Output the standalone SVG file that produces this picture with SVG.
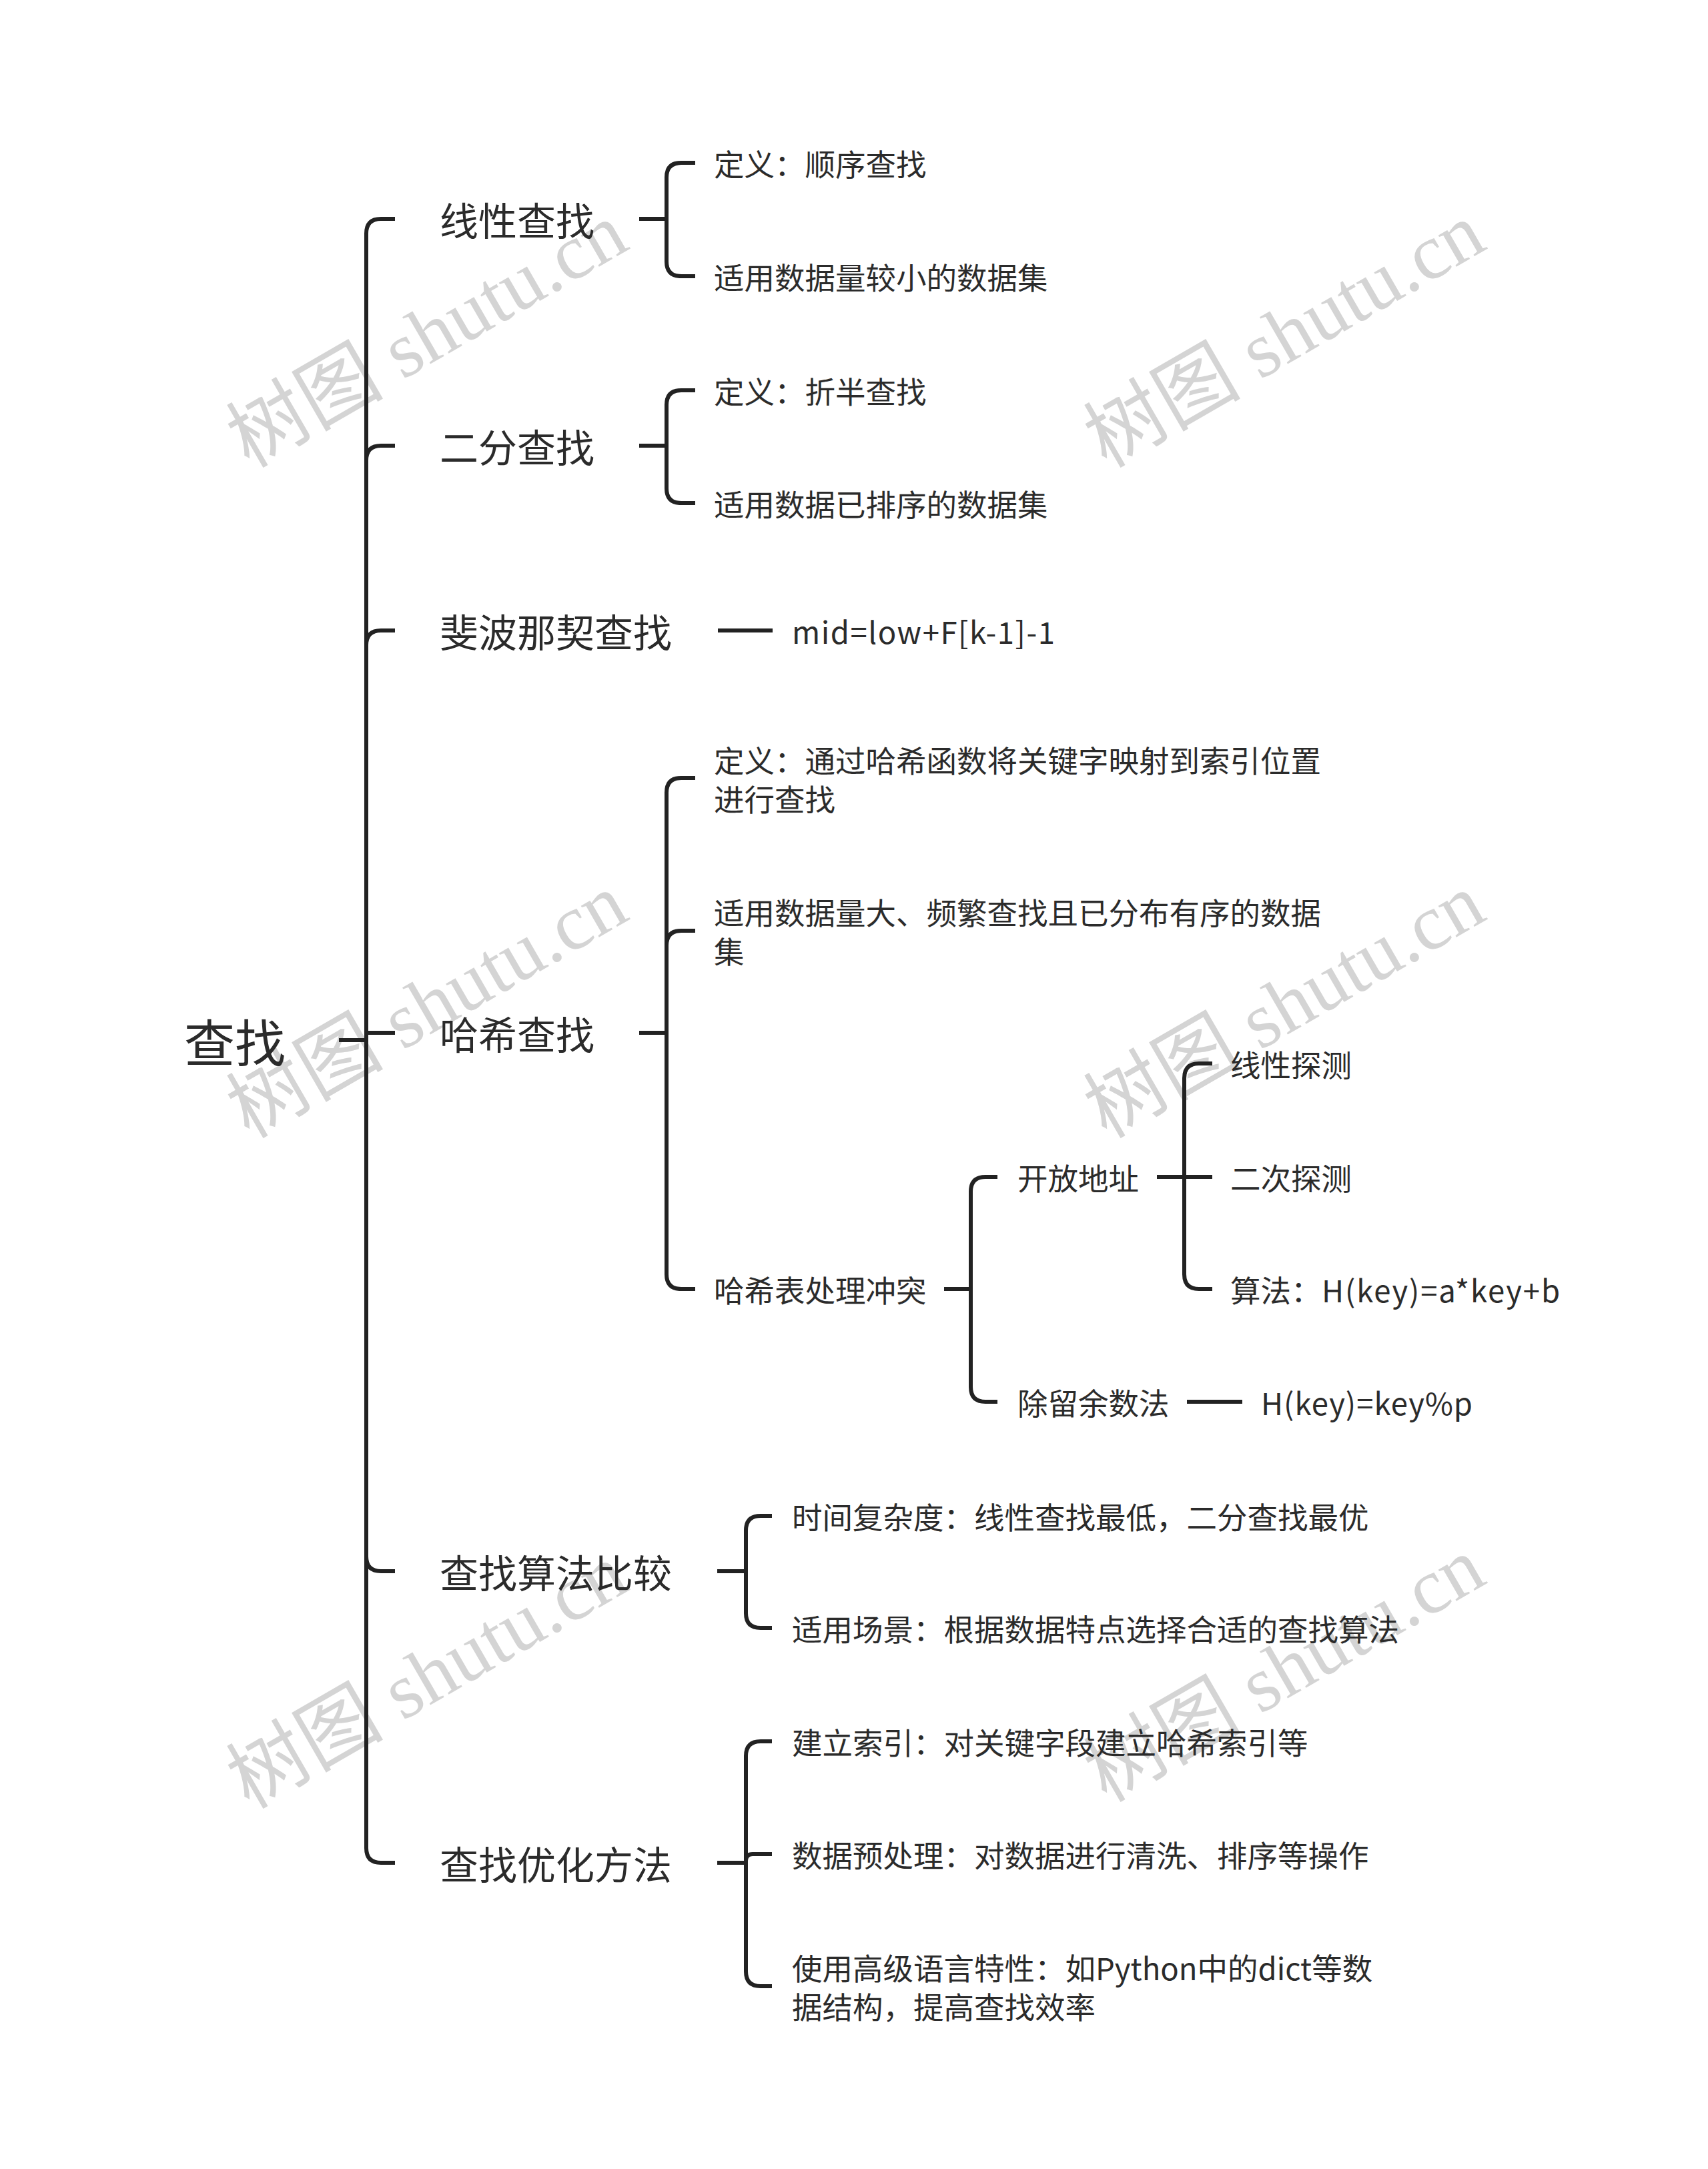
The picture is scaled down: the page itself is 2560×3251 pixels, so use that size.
<svg xmlns="http://www.w3.org/2000/svg" width="2560" height="3251" viewBox="0 0 2560 3251">
<style>
  .c { fill: none; stroke: #222222; stroke-width: 6; stroke-linecap: butt; stroke-linejoin: round; }
  .t { font-family: "Noto Sans CJK SC", "Noto Sans", sans-serif; fill: #2b2b2b; dominant-baseline: central; }
  .root { font-size: 76px; }
  .l1 { font-size: 58px; }
  .l2 { font-size: 45.5px; }
  .wm { font-family: "Liberation Serif", "Noto Sans CJK SC", serif; font-size: 118px; fill: #d4d4d4; text-anchor: middle; }
</style>
<rect width="2560" height="3251" fill="#ffffff"/>
<g id="watermarks">
  <text class="wm" transform="translate(660,537) rotate(-30)">树图 shutu.cn</text>
  <text class="wm" transform="translate(1945,537) rotate(-30)">树图 shutu.cn</text>
  <text class="wm" transform="translate(660,1542) rotate(-30)">树图 shutu.cn</text>
  <text class="wm" transform="translate(1945,1542) rotate(-30)">树图 shutu.cn</text>
  <text class="wm" transform="translate(660,2547) rotate(-30)">树图 shutu.cn</text>
  <text class="wm" transform="translate(1945,2537) rotate(-30)">树图 shutu.cn</text>
</g>
<g id="connectors">
  <!-- root to level 1 -->
  <path class="c" d="M508,1559 H549"/>
  <path class="c" d="M549,1559 V350 Q549,328 571,328 H592"/>
  <path class="c" d="M549,1559 V690 Q549,668 571,668 H592"/>
  <path class="c" d="M549,1559 V967 Q549,945 571,945 H592"/>
  <path class="c" d="M549,1559 V1548 H592"/>
  <path class="c" d="M549,1559 V2333 Q549,2355 571,2355 H592"/>
  <path class="c" d="M549,1559 V2770 Q549,2792 571,2792 H592"/>
  <!-- 线性查找 -->
  <path class="c" d="M958,328 H999"/>
  <path class="c" d="M999,328 V266 Q999,244 1021,244 H1042"/>
  <path class="c" d="M999,328 V392 Q999,414 1021,414 H1042"/>
  <!-- 二分查找 -->
  <path class="c" d="M958,668 H999"/>
  <path class="c" d="M999,668 V607 Q999,585 1021,585 H1042"/>
  <path class="c" d="M999,668 V732 Q999,754 1021,754 H1042"/>
  <!-- 斐波那契查找 -->
  <path class="c" d="M1076,945 H1158"/>
  <!-- 哈希查找 -->
  <path class="c" d="M958,1548 H999"/>
  <path class="c" d="M999,1548 V1188 Q999,1166 1021,1166 H1042"/>
  <path class="c" d="M999,1548 V1417 Q999,1395 1021,1395 H1042"/>
  <path class="c" d="M999,1548 V1910 Q999,1932 1021,1932 H1042"/>
  <!-- 哈希表处理冲突 -->
  <path class="c" d="M1415,1932 H1455"/>
  <path class="c" d="M1455,1932 V1786 Q1455,1764 1477,1764 H1495"/>
  <path class="c" d="M1455,1932 V2079 Q1455,2101 1477,2101 H1495"/>
  <!-- 开放地址 -->
  <path class="c" d="M1734,1764 H1775"/>
  <path class="c" d="M1775,1764 V1616 Q1775,1594 1797,1594 H1817"/>
  <path class="c" d="M1775,1764 H1817"/>
  <path class="c" d="M1775,1764 V1910 Q1775,1932 1797,1932 H1817"/>
  <!-- 除留余数法 -->
  <path class="c" d="M1779,2101 H1862"/>
  <!-- 查找算法比较 -->
  <path class="c" d="M1075,2355 H1118"/>
  <path class="c" d="M1118,2355 V2294 Q1118,2272 1140,2272 H1157"/>
  <path class="c" d="M1118,2355 V2418 Q1118,2440 1140,2440 H1157"/>
  <!-- 查找优化方法 -->
  <path class="c" d="M1075,2792 H1118"/>
  <path class="c" d="M1118,2792 V2632 Q1118,2610 1140,2610 H1157"/>
  <path class="c" d="M1118,2792 V2789 Q1118,2779 1128,2779 H1157"/>
  <path class="c" d="M1118,2792 V2955 Q1118,2977 1140,2977 H1157"/>
</g>
<g id="n-root"><text class="t root" x="276" y="1559">查找</text></g>
<g id="n-linear"><text class="t l1" x="659" y="328">线性查找</text></g>
<g id="n-linear-def"><text class="t l2" x="1070" y="244">定义：顺序查找</text></g>
<g id="n-linear-use"><text class="t l2" x="1070" y="414">适用数据量较小的数据集</text></g>
<g id="n-binary"><text class="t l1" x="659" y="668">二分查找</text></g>
<g id="n-binary-def"><text class="t l2" x="1070" y="585">定义：折半查找</text></g>
<g id="n-binary-use"><text class="t l2" x="1070" y="754">适用数据已排序的数据集</text></g>
<g id="n-fib"><text class="t l1" x="659" y="945">斐波那契查找</text></g>
<g id="n-fib-mid"><text class="t l2" x="1187" y="945" textLength="394" lengthAdjust="spacing">mid=low+F[k-1]-1</text></g>
<g id="n-hash"><text class="t l1" x="659" y="1548">哈希查找</text></g>
<g id="n-hash-def"><text class="t l2" x="1070" y="1138">定义：通过哈希函数将关键字映射到索引位置<tspan x="1070" y="1196">进行查找</tspan></text></g>
<g id="n-hash-use"><text class="t l2" x="1070" y="1366">适用数据量大、频繁查找且已分布有序的数据<tspan x="1070" y="1424">集</tspan></text></g>
<g id="n-hash-conflict"><text class="t l2" x="1070" y="1932">哈希表处理冲突</text></g>
<g id="n-open"><text class="t l2" x="1525" y="1764">开放地址</text></g>
<g id="n-open-linear"><text class="t l2" x="1844" y="1594">线性探测</text></g>
<g id="n-open-quad"><text class="t l2" x="1844" y="1764">二次探测</text></g>
<g id="n-open-algo"><text class="t l2" x="1844" y="1932">算法：<tspan x="1981" textLength="357" lengthAdjust="spacing">H(key)=a*key+b</tspan></text></g>
<g id="n-mod"><text class="t l2" x="1525" y="2101">除留余数法</text></g>
<g id="n-mod-formula"><text class="t l2" x="1890" y="2101" textLength="317" lengthAdjust="spacing">H(key)=key%p</text></g>
<g id="n-compare"><text class="t l1" x="659" y="2355">查找算法比较</text></g>
<g id="n-compare-time"><text class="t l2" x="1187" y="2272">时间复杂度：线性查找最低，二分查找最优</text></g>
<g id="n-compare-scene"><text class="t l2" x="1187" y="2440">适用场景：根据数据特点选择合适的查找算法</text></g>
<g id="n-opt"><text class="t l1" x="659" y="2792">查找优化方法</text></g>
<g id="n-opt-index"><text class="t l2" x="1187" y="2610">建立索引：对关键字段建立哈希索引等</text></g>
<g id="n-opt-pre"><text class="t l2" x="1187" y="2779">数据预处理：对数据进行清洗、排序等操作</text></g>
<g id="n-opt-lang"><text class="t l2" x="1187" y="2948">使用高级语言特性：如Python中的dict等数<tspan x="1187" y="3006">据结构，提高查找效率</tspan></text></g>
</svg>
